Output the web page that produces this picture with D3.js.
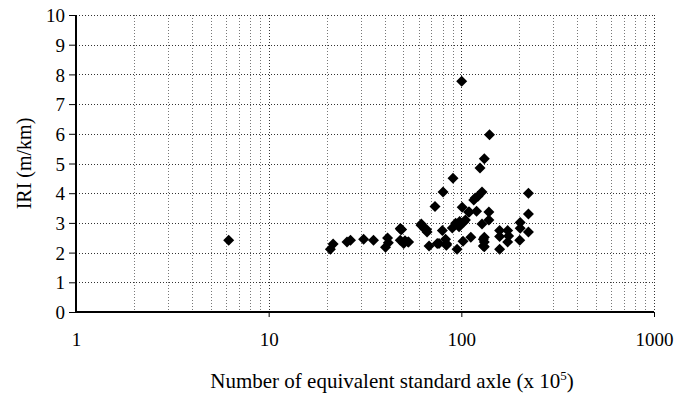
<!DOCTYPE html>
<html><head><meta charset="utf-8">
<script src="https://cdn.jsdelivr.net/npm/d3@7"></script>
<style>body{margin:0;background:#fff}svg{display:block}</style>
</head><body><svg id="c" width="688" height="394"></svg>
<script>
const esal = [6.2,20.9,21.6,25.5,26.6,31.1,35.0,40.4,41.4,41.8,48.2,48.5,48.2,50.2,53.2,61.8,64.2,66.4,68,73,80.4,79.7,76.6,82.8,83.6,90.5,95,89.8,93.4,97.3,101,102,103,105,110,112,116,120,122,128,128,131.6,131.6,131.6,139,139,158,158,158,174,174,176,202,202,201,223,223,223,100.4,140,131.6,125,118,66,62,98,51,53,49,75,84,130,130,109];
const iri  = [2.42,2.11,2.29,2.36,2.42,2.45,2.42,2.18,2.49,2.33,2.81,2.78,2.42,2.31,2.36,2.92,2.81,2.69,2.22,3.55,4.04,2.74,2.31,2.45,2.25,4.5,2.11,2.83,2.99,2.87,3.53,2.38,3.03,3.10,3.37,2.52,3.77,3.39,3.9,4.04,2.96,2.52,2.36,2.20,3.37,3.10,2.74,2.54,2.11,2.74,2.36,2.56,3.01,2.82,2.42,4.0,3.3,2.69,7.77,5.97,5.16,4.85,3.84,2.78,2.96,3.05,2.40,2.36,2.78,2.31,2.29,2.45,2.22,3.37];
const xTicks = [1,10,100,1000];
const yTicks = [0,1,2,3,4,5,6,7,8,9,10];
const yLabel = "IRI (m/km)";
const FF = "Liberation Serif";

const svg = d3.select("#c");
const L=76,R=654,T=15,B=312;
const x = d3.scaleLog().domain([1,1000]).range([L,R]);
const y = d3.scaleLinear().domain([0,10]).range([B,T]);

const minor=[];
for(let d=1; d<1000; d*=10) for(let k=2;k<=9;k++) minor.push(d*k);
svg.append("g").selectAll("line").data(minor).join("line")
  .attr("x1",d=>Math.round(x(d))+0.5).attr("x2",d=>Math.round(x(d))+0.5).attr("y1",T).attr("y2",B)
  .attr("stroke","#777").attr("stroke-width",1).attr("stroke-dasharray","1,2");
svg.append("g").selectAll("line").data([10,100,1000]).join("line")
  .attr("x1",d=>Math.round(x(d))+0.5).attr("x2",d=>Math.round(x(d))+0.5).attr("y1",T).attr("y2",B)
  .attr("stroke","#333").attr("stroke-width",1).attr("stroke-dasharray","1,2");
svg.append("g").selectAll("line").data(yTicks.slice(1)).join("line")
  .attr("x1",L).attr("x2",R).attr("y1",d=>Math.round(y(d))+0.5).attr("y2",d=>Math.round(y(d))+0.5)
  .attr("stroke","#333").attr("stroke-width",1).attr("stroke-dasharray","1,2");

const yAxis = d3.axisLeft(y).tickValues(yTicks).tickSize(7).tickPadding(4).tickFormat(d3.format("d"));
const gy = svg.append("g").attr("transform",`translate(${L},0)`).call(yAxis);
gy.select(".domain").remove();
gy.selectAll("text").style("font-family",FF).style("font-size","19px").attr("dy","0.35em").attr("fill","#000");
const xAxis = d3.axisBottom(x).tickValues(xTicks).tickSize(5).tickPadding(16).tickFormat(d3.format("d"));
const gx = svg.append("g").attr("transform",`translate(0,${B})`).call(xAxis);
gx.select(".domain").remove();
gx.selectAll("text").style("font-family",FF).style("font-size","19px").attr("fill","#000");
gx.selectAll(".tick line").filter(d=>d===1).remove();
svg.append("line").attr("x1",L).attr("x2",L).attr("y1",T).attr("y2",B+1).attr("stroke","#000").attr("stroke-width",2);
svg.append("line").attr("x1",L).attr("x2",R).attr("y1",B).attr("y2",B).attr("stroke","#000").attr("stroke-width",2);

svg.append("g").selectAll("path").data(esal.map((e,i)=>[e,iri[i]])).join("path")
  .attr("d","M0,-5.5L5.5,0L0,5.5L-5.5,0Z")
  .attr("transform",d=>`translate(${x(d[0])},${y(d[1])})`)
  .attr("fill","#000");

svg.append("text").style("font-family",FF).attr("transform",`translate(31,${(T+B)/2}) rotate(-90)`).attr("text-anchor","middle")
  .style("font-size","20px").text(yLabel);
const xl = svg.append("text").style("font-family",FF).attr("x",392).attr("y",388).attr("text-anchor","middle").style("font-size","21px");
xl.append("tspan").text("Number of equivalent standard axle (x 10");
xl.append("tspan").attr("dy","-8").style("font-size","13px").text("5");
xl.append("tspan").attr("dy","8").text(")");
</script></body></html>
